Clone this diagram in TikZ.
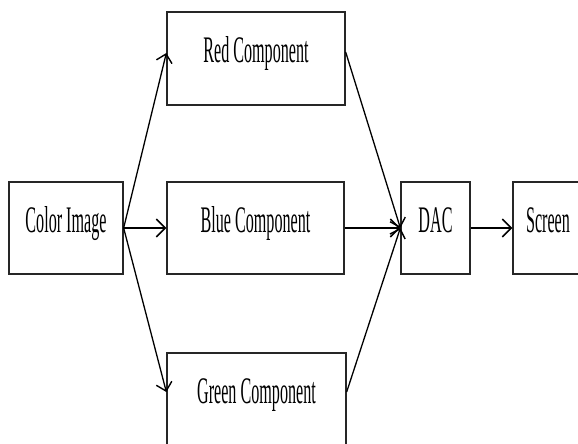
\documentclass[tikz,border=0pt]{standalone}
\usepackage{fontspec}
\setmainfont{Liberation Serif}
\usepackage{graphicx}
\usetikzlibrary{arrows.meta}
\newcommand{\nartext}[1]{\scalebox{0.43}[1]{\fontsize{37.5}{40}\selectfont #1}}
\tikzset{
  blockbox/.style={draw=black!85, line width=1.3pt, rectangle, inner sep=0pt,
    minimum height=92pt, text height=26pt, text depth=18pt, fill=white},
  flowline/.style={line width=1.3pt, -{Straight Barb[length=8pt,width=16pt,line width=1.4pt]}},
  flowthick/.style={line width=2pt, -{Straight Barb[length=9pt,width=18pt,line width=1.5pt]}}
}
\begin{document}
\begin{tikzpicture}[x=1pt,y=-1pt]
\useasboundingbox (0,0) rectangle (578,444);
\fill[white] (0,0) rectangle (578,444);
\clip (0,0) rectangle (578,444);
\node[blockbox, minimum width=114pt] (img) at (66,228) {\nartext{Color Image}};
\node[blockbox, minimum width=178pt, minimum height=93pt] (red) at (256,58.5) {\nartext{Red Component}};
\node[blockbox, minimum width=177pt] (blue) at (255.5,228) {\nartext{Blue Component}};
\node[blockbox, minimum width=179pt, minimum height=93pt] (green) at (256.5,399.5) {\nartext{Green Component}};
\node[blockbox, minimum width=69pt] (dac) at (435.5,228) {\nartext{DAC}};
\node[blockbox, minimum width=70pt] (scr) at (548,228) {\nartext{Screen}};
\draw[flowline] (img.east) -- ([yshift=5.5pt]red.west);
\draw[flowthick] (img.east) -- (blue.west);
\draw[flowline] (img.east) -- ([yshift=7.5pt]green.west);
\draw[flowline] ([yshift=6.5pt]red.east) -- (dac.west);
\draw[flowthick] (blue.east) -- (dac.west);
\draw[flowline] ([yshift=7.5pt]green.east) -- (dac.west);
\draw[flowthick] (dac.east) -- (scr.west);
\end{tikzpicture}
\end{document}
